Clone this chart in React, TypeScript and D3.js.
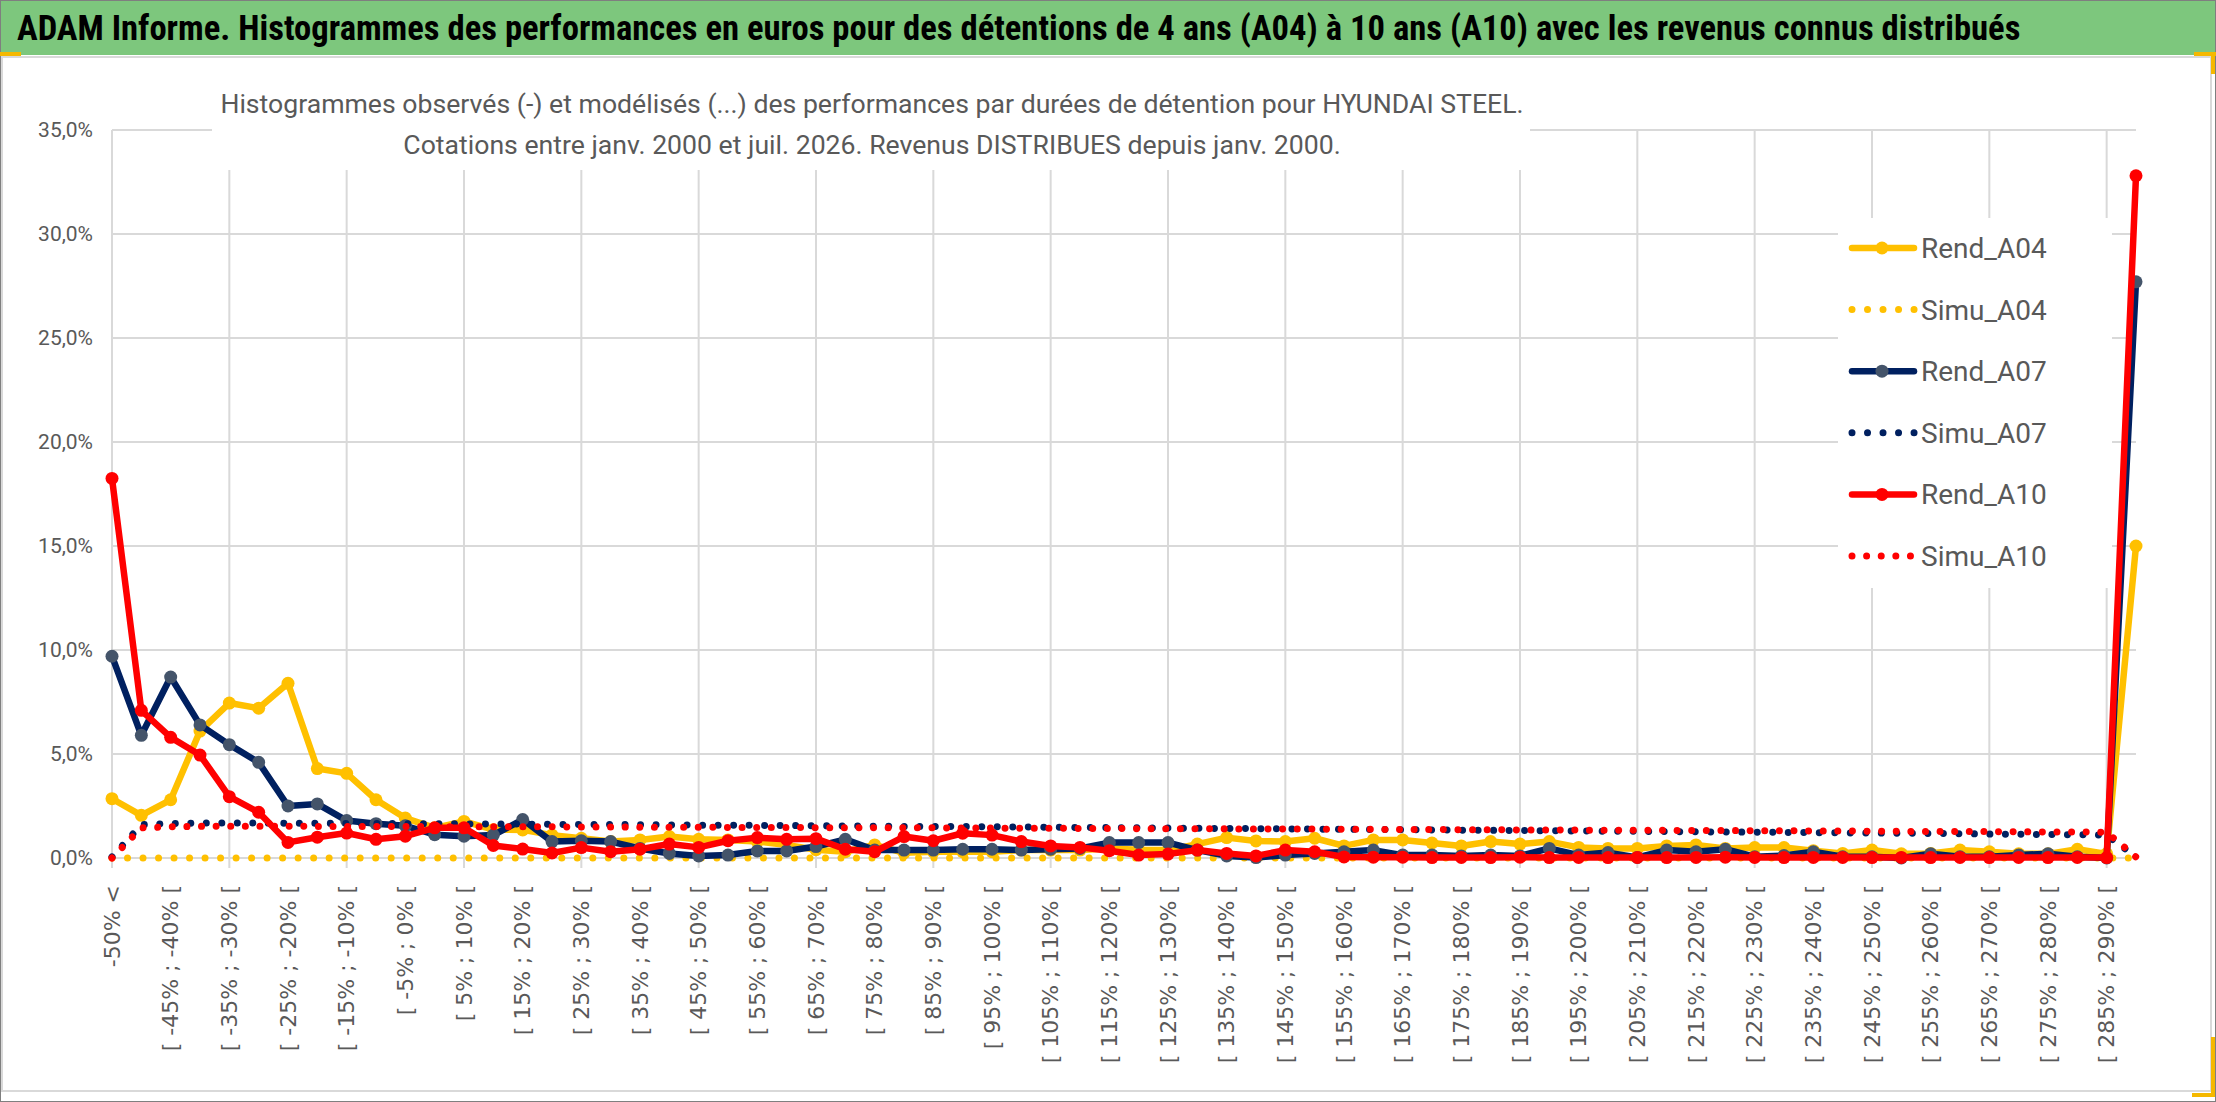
import * as d3 from 'd3';
import * as React from 'react';

// Categories of the histogram (5% buckets of performance)
const categories = [
  '-50% <',
  '[ -50% ; -45% [', '[ -45% ; -40% [', '[ -40% ; -35% [', '[ -35% ; -30% [', '[ -30% ; -25% [',
  '[ -25% ; -20% [', '[ -20% ; -15% [', '[ -15% ; -10% [', '[ -10% ; -5% [', '[ -5% ; 0% [',
  '[ 0% ; 5% [', '[ 5% ; 10% [', '[ 10% ; 15% [', '[ 15% ; 20% [', '[ 20% ; 25% [',
  '[ 25% ; 30% [', '[ 30% ; 35% [', '[ 35% ; 40% [', '[ 40% ; 45% [', '[ 45% ; 50% [',
  '[ 50% ; 55% [', '[ 55% ; 60% [', '[ 60% ; 65% [', '[ 65% ; 70% [', '[ 70% ; 75% [',
  '[ 75% ; 80% [', '[ 80% ; 85% [', '[ 85% ; 90% [', '[ 90% ; 95% [', '[ 95% ; 100% [',
  '[ 100% ; 105% [', '[ 105% ; 110% [', '[ 110% ; 115% [', '[ 115% ; 120% [', '[ 120% ; 125% [',
  '[ 125% ; 130% [', '[ 130% ; 135% [', '[ 135% ; 140% [', '[ 140% ; 145% [', '[ 145% ; 150% [',
  '[ 150% ; 155% [', '[ 155% ; 160% [', '[ 160% ; 165% [', '[ 165% ; 170% [', '[ 170% ; 175% [',
  '[ 175% ; 180% [', '[ 180% ; 185% [', '[ 185% ; 190% [', '[ 190% ; 195% [', '[ 195% ; 200% [',
  '[ 200% ; 205% [', '[ 205% ; 210% [', '[ 210% ; 215% [', '[ 215% ; 220% [', '[ 220% ; 225% [',
  '[ 225% ; 230% [', '[ 230% ; 235% [', '[ 235% ; 240% [', '[ 240% ; 245% [', '[ 245% ; 250% [',
  '[ 250% ; 255% [', '[ 255% ; 260% [', '[ 260% ; 265% [', '[ 265% ; 270% [', '[ 270% ; 275% [',
  '[ 275% ; 280% [', '[ 280% ; 285% [', '[ 285% ; 290% [',
  '> 290%',
];

// values in %
const rendA04 = [
  2.85, 2.05, 2.8, 6.1, 7.45, 7.2, 8.4, 4.3, 4.07, 2.8,
  1.92, 1.45, 1.76, 1.36, 1.35, 1.1, 0.95, 0.79, 0.87, 1.03,
  0.9, 0.87, 0.79, 0.63, 0.4, 0.3, 0.63, 0.25, 0.3, 0.3,
  0.3, 0.38, 0.38, 0.38, 0.46, 0.4, 0.38, 0.67, 0.98, 0.82,
  0.79, 0.95, 0.58, 0.87, 0.87, 0.72, 0.58, 0.79, 0.67, 0.79,
  0.51, 0.46, 0.46, 0.58, 0.63, 0.46, 0.5, 0.5, 0.35, 0.22,
  0.38, 0.2, 0.22, 0.38, 0.3, 0.2, 0.2, 0.42, 0.2, 15.0,
];
const simuA04 = [
  0, 0, 0, 0, 0, 0, 0, 0, 0, 0,
  0, 0, 0, 0, 0, 0, 0, 0, 0, 0,
  0, 0, 0, 0, 0, 0, 0, 0, 0, 0,
  0, 0, 0, 0, 0, 0, 0, 0, 0, 0,
  0, 0, 0, 0, 0, 0, 0, 0, 0, 0,
  0, 0, 0, 0, 0, 0, 0, 0, 0, 0,
  0, 0, 0, 0, 0, 0, 0, 0, 0, 0,
];
const rendA07 = [
  9.7, 5.9, 8.7, 6.4, 5.45, 4.6, 2.5, 2.6, 1.8, 1.65,
  1.55, 1.12, 1.05, 1.1, 1.85, 0.79, 0.83, 0.79, 0.46, 0.22,
  0.1, 0.14, 0.34, 0.34, 0.55, 0.9, 0.38, 0.38, 0.38, 0.42,
  0.42, 0.38, 0.42, 0.46, 0.74, 0.74, 0.74, 0.38, 0.1, 0.02,
  0.14, 0.22, 0.3, 0.38, 0.14, 0.15, 0.1, 0.14, 0.1, 0.46,
  0.14, 0.26, 0.03, 0.38, 0.3, 0.42, 0.06, 0.12, 0.3, 0.06,
  0.06, 0.0, 0.2, 0.06, 0.06, 0.15, 0.2, 0.06, 0.0, 27.7,
];
const simuA07 = [
  0.05, 1.6, 1.66, 1.68, 1.68, 1.68, 1.67, 1.67, 1.66, 1.66,
  1.65, 1.65, 1.64, 1.63, 1.63, 1.62, 1.61, 1.61, 1.6, 1.59,
  1.58, 1.58, 1.57, 1.56, 1.55, 1.54, 1.53, 1.52, 1.52, 1.51,
  1.5, 1.49, 1.48, 1.47, 1.46, 1.45, 1.44, 1.43, 1.42, 1.41,
  1.4, 1.39, 1.38, 1.37, 1.36, 1.35, 1.34, 1.33, 1.32, 1.31,
  1.3, 1.29, 1.28, 1.27, 1.26, 1.25, 1.24, 1.23, 1.22, 1.21,
  1.2, 1.19, 1.18, 1.17, 1.15, 1.14, 1.13, 1.12, 1.1, 0.05,
];
const rendA10 = [
  18.25, 7.1, 5.8, 4.95, 2.95, 2.2, 0.75, 1.0, 1.2, 0.9,
  1.05, 1.45, 1.45, 0.6, 0.43, 0.24, 0.5, 0.3, 0.42, 0.67,
  0.51, 0.83, 0.98, 0.9, 0.93, 0.42, 0.3, 1.03, 0.83, 1.19,
  1.1, 0.79, 0.58, 0.51, 0.35, 0.14, 0.19, 0.38, 0.22, 0.1,
  0.38, 0.3, 0.05, 0.04, 0.04, 0.02, 0.03, 0.02, 0.04, 0.02,
  0.03, 0.02, 0.03, 0.02, 0.03, 0.04, 0.03, 0.02, 0.03, 0.03,
  0.02, 0.03, 0.02, 0.03, 0.02, 0.03, 0.02, 0.03, 0.02, 32.8,
];
const simuA10 = [
  0.0, 1.45, 1.5, 1.52, 1.53, 1.53, 1.53, 1.52, 1.52, 1.52,
  1.51, 1.51, 1.5, 1.5, 1.5, 1.5, 1.49, 1.49, 1.48, 1.48,
  1.48, 1.47, 1.47, 1.47, 1.46, 1.46, 1.45, 1.45, 1.45, 1.44,
  1.44, 1.43, 1.43, 1.42, 1.42, 1.41, 1.41, 1.41, 1.4, 1.4,
  1.39, 1.39, 1.38, 1.38, 1.37, 1.37, 1.36, 1.36, 1.35, 1.35,
  1.34, 1.34, 1.33, 1.33, 1.32, 1.32, 1.31, 1.31, 1.3, 1.3,
  1.29, 1.28, 1.28, 1.27, 1.27, 1.26, 1.25, 1.25, 1.24, 0.05,
];

const seriesNames = ['Rend_A04', 'Simu_A04', 'Rend_A07', 'Simu_A07', 'Rend_A10', 'Simu_A10'];
const seriesValues = [rendA04, simuA04, rendA07, simuA07, rendA10, simuA10];

const mainTitle =
  'ADAM Informe. Histogrammes des performances en euros pour des détentions de 4 ans (A04) à 10 ans (A10) avec les revenus connus distribués';
const subTitle1 =
  'Histogrammes observés (-) et modélisés (...) des performances par durées de détention pour HYUNDAI STEEL.';
const subTitle2 = 'Cotations entre janv. 2000 et juil. 2026. Revenus DISTRIBUES depuis janv. 2000.';

const W = 2216;
const H = 1102;
const PLOT = { left: 112, right: 2136, top: 130, bottom: 858 };
const GRAY_TXT = '#595959';
const GRID = '#d9d9d9';

const styles = [
  { color: '#FFC000', marker: '#FFC000', dotted: false, period: 0 },
  { color: '#FFC000', marker: null, dotted: true, period: 15.5 },
  { color: '#002060', marker: '#44546A', dotted: false, period: 0 },
  { color: '#002060', marker: null, dotted: true, period: 15.5 },
  { color: '#FF0000', marker: '#FF0000', dotted: false, period: 0 },
  { color: '#FF0000', marker: null, dotted: true, period: 14.6 },
];

const fr = d3.formatLocale({ decimal: ',', thousands: ' ', grouping: [3], currency: ['', '€'] });
const fmtPct = fr.format('.1f');

// text whose font size is adjusted once so that it spans `width` px
const FitText = ({ width, size, maxSize, children, ...rest }) => {
  const ref = React.useRef<SVGTextElement | null>(null);
  const [fs, setFs] = React.useState(size);
  React.useLayoutEffect(() => {
    if (!ref.current) return;
    const w = ref.current.getComputedTextLength();
    if (w > 0) setFs(Math.min(maxSize || 999, (size * width) / w));
  }, []);
  return (
    <text ref={ref} fontSize={fs} {...rest}>
      {children}
    </text>
  );
};

const App = () => {
  const x = d3.scalePoint<string>().domain(categories).range([PLOT.left, PLOT.right]);
  const y = d3.scaleLinear().domain([0, 35]).range([PLOT.bottom, PLOT.top]);
  const yTicks = y.ticks(7);

  const line = d3
    .line<number>()
    .x((d, i) => x(categories[i]) as number)
    .y((d) => y(d));

  const gridCats = categories.filter((c, i) => i % 4 === 0);
  const labelCats = categories.filter((c, i) => i % 2 === 0);

  const legendY = d3.scalePoint<string>().domain(seriesNames).range([248, 556]);

  return (
    <svg
      width={W}
      height={H}
      style={{ position: 'absolute', left: 0, top: 0, display: 'block' }}
      fontFamily="Roboto, 'Noto Sans', sans-serif"
    >
      <rect width={W} height={H} fill="#fff" />
      {/* banner */}
      <rect x={0} y={0} width={W} height={55} fill="#7DC77D" />
      <line x1={0} x2={W} y1={0.5} y2={0.5} stroke="#7f7f7f" />
      <FitText
        x={17}
        y={40}
        width={2004}
        size={30}
        maxSize={36}
        fontWeight="bold"
        fill="#000"
        fontFamily="'Liberation Sans Narrow', 'Roboto Condensed', Roboto, sans-serif"
      >
        {mainTitle}
      </FitText>

      {/* chart area */}
      <rect x={2} y={57} width={2209} height={1034} fill="#fff" stroke={GRID} strokeWidth={2} />
      <rect x={0.5} y={0.5} width={W - 1} height={H - 1} fill="none" stroke="#7f7f7f" />

      {/* grid */}
      {yTicks.map((t) => (
        <line key={'h' + t} x1={PLOT.left} x2={PLOT.right} y1={y(t)} y2={y(t)} stroke={GRID} strokeWidth={2} />
      ))}
      {gridCats.map((c) => (
        <line key={'v' + c} x1={x(c)} x2={x(c)} y1={PLOT.top} y2={PLOT.bottom + 10} stroke={GRID} strokeWidth={2} />
      ))}

      {/* title box */}
      <rect x={212} y={60} width={1318} height={110} fill="#fff" />
      <FitText x={872} y={113} width={1304} size={28} maxSize={32} textAnchor="middle" fill={GRAY_TXT}>
        {subTitle1}
      </FitText>
      <FitText x={872} y={154} width={938} size={28} maxSize={32} textAnchor="middle" fill={GRAY_TXT}>
        {subTitle2}
      </FitText>

      {/* y labels */}
      {yTicks.map((t) => (
        <text key={'yl' + t} x={93} y={y(t)} dy="0.35em" textAnchor="end" fontSize={21} fill={GRAY_TXT}>
          {fmtPct(t) + '%'}
        </text>
      ))}

      {/* x labels */}
      {labelCats.map((c) => (
        <text
          key={'xl' + c}
          transform={`translate(${x(c)},885) rotate(-90)`}
          dy="0.35em"
          textAnchor="end"
          fontSize={22}
          fill={GRAY_TXT}
          fontFamily="'DejaVu Sans', Verdana, sans-serif"
        >
          {c}
        </text>
      ))}

      {/* series */}
      {seriesValues.map((vals, si) => {
        const st = styles[si];
        return (
          <g key={seriesNames[si]}>
            <path
              d={line(vals) || ''}
              fill="none"
              stroke={st.color}
              strokeWidth={st.dotted ? 7 : 6.5}
              strokeLinejoin="round"
              strokeLinecap="round"
              strokeDasharray={st.dotted ? `0.01 ${st.period}` : undefined}
            />
            {st.marker &&
              vals.map((v, i) => (
                <circle key={i} cx={x(categories[i])} cy={y(v)} r={6.5} fill={st.marker as string} />
              ))}
          </g>
        );
      })}

      {/* legend */}
      <rect x={1838} y={218} width={274} height={370} fill="#fff" />
      {seriesNames.map((n, si) => {
        const st = styles[si];
        const ly = legendY(n) as number;
        return (
          <g key={'lg' + n}>
            <line
              x1={1852}
              x2={st.dotted ? 1918 : 1914}
              y1={ly}
              y2={ly}
              stroke={st.color}
              strokeWidth={st.dotted ? 7 : 6.5}
              strokeLinecap="round"
              strokeDasharray={st.dotted ? `0.01 ${st.period}` : undefined}
            />
            {st.marker && <circle cx={1882} cy={ly} r={6.5} fill={st.marker as string} />}
            <text x={1921} y={ly} dy="0.36em" fontSize={28} fill={GRAY_TXT}>
              {n}
            </text>
          </g>
        );
      })}

      {/* selection handles */}
      <rect x={0} y={52} width={21} height={4} fill="#F5B800" />
      <rect x={2194} y={52} width={22} height={4} fill="#F5B800" />
      <rect x={2211} y={52} width={4} height={22} fill="#F5B800" />
      <rect x={2211} y={1037} width={4} height={60} fill="#F5B800" />
      <rect x={2192} y={1093} width={23} height={4} fill="#F5B800" />
    </svg>
  );
};

export default App;
